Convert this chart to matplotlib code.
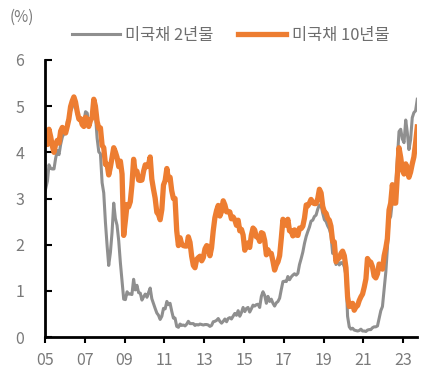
import numpy as np
import pandas as pd
import matplotlib
matplotlib.use('Agg')
import matplotlib.pyplot as plt
import matplotlib.dates as mdates

plt.rcParams['font.family'] = ['Noto Sans CJK KR', 'DejaVu Sans']

# 미국채 10년물 (월별, 2005.01 ~ 2023.09)
y10 = [
    4.22, 4.17, 4.50, 4.34, 4.14, 4.00, 4.18, 4.26, 4.20, 4.46, 4.54, 4.47,
    4.42, 4.57, 4.72, 4.99, 5.11, 5.20, 5.09, 4.88, 4.72, 4.73, 4.60, 4.56,
    4.76, 4.72, 4.56, 4.69, 4.75, 5.15, 5.00, 4.67, 4.52, 4.53, 4.15, 4.10,
    3.74, 3.74, 3.51, 3.68, 3.88, 4.10, 4.01, 3.89, 3.69, 3.81, 3.53, 2.20,
    2.52, 2.87, 2.82, 2.93, 3.29, 3.85, 3.56, 3.59, 3.40, 3.39, 3.40, 3.59,
    3.73, 3.69, 3.73, 3.90, 3.42, 3.20, 3.01, 2.70, 2.65, 2.54, 2.76, 3.29,
    3.39, 3.65, 3.41, 3.46, 3.17, 3.00, 3.00, 2.30, 1.98, 2.15, 2.01, 1.98,
    1.97, 1.97, 2.17, 2.05, 1.75, 1.55, 1.50, 1.68, 1.72, 1.75, 1.65, 1.72,
    1.91, 1.98, 1.96, 1.76, 1.93, 2.30, 2.58, 2.74, 2.85, 2.62, 2.72, 2.95,
    2.86, 2.71, 2.72, 2.71, 2.56, 2.60, 2.54, 2.42, 2.53, 2.30, 2.33, 2.21,
    1.88, 1.98, 2.04, 1.94, 2.20, 2.36, 2.32, 2.17, 2.17, 2.07, 2.26, 2.24,
    2.09, 1.78, 1.89, 1.81, 1.81, 1.64, 1.45, 1.56, 1.63, 1.76, 2.14, 2.55,
    2.43, 2.42, 2.55, 2.30, 2.30, 2.19, 2.32, 2.21, 2.20, 2.36, 2.35, 2.40,
    2.58, 2.86, 2.84, 2.90, 2.98, 2.91, 2.89, 2.89, 3.00, 3.20, 3.12, 2.83,
    2.71, 2.68, 2.57, 2.53, 2.40, 2.07, 2.06, 1.63, 1.70, 1.71, 1.81, 1.86,
    1.76, 1.50, 0.87, 0.66, 0.67, 0.73, 0.58, 0.65, 0.68, 0.79, 0.87, 0.93,
    1.08, 1.26, 1.70, 1.64, 1.62, 1.52, 1.32, 1.28, 1.37, 1.58, 1.56, 1.47,
    1.76, 1.93, 2.13, 2.75, 2.90, 3.30, 2.90, 2.90, 3.52, 4.10, 3.89, 3.62,
    3.53, 3.75, 3.66, 3.46, 3.57, 3.75, 3.90, 4.20, 4.55,
]

# 미국채 2년물
y2 = [
    3.15, 3.38, 3.73, 3.65, 3.64, 3.64, 3.87, 4.04, 3.95, 4.17, 4.33, 4.41,
    4.40, 4.67, 4.73, 4.89, 4.97, 5.12, 5.04, 4.82, 4.70, 4.74, 4.72, 4.67,
    4.88, 4.85, 4.57, 4.67, 4.77, 4.96, 4.82, 4.31, 4.01, 3.97, 3.34, 3.12,
    2.48, 1.97, 1.55, 1.83, 2.26, 2.90, 2.57, 2.42, 2.08, 1.61, 1.21, 0.82,
    0.81, 0.98, 0.93, 0.93, 0.92, 1.25, 1.02, 1.12, 0.96, 0.95, 0.80, 0.87,
    0.93, 0.86, 0.96, 1.06, 0.83, 0.72, 0.62, 0.52, 0.47, 0.38, 0.45, 0.62,
    0.61, 0.77, 0.70, 0.73, 0.56, 0.41, 0.41, 0.23, 0.21, 0.28, 0.25, 0.26,
    0.24, 0.28, 0.34, 0.29, 0.29, 0.29, 0.25, 0.27, 0.26, 0.28, 0.27, 0.26,
    0.27, 0.27, 0.26, 0.23, 0.25, 0.33, 0.34, 0.36, 0.40, 0.34, 0.30, 0.34,
    0.39, 0.33, 0.40, 0.42, 0.39, 0.45, 0.51, 0.47, 0.57, 0.45, 0.53, 0.64,
    0.55, 0.62, 0.64, 0.54, 0.61, 0.69, 0.67, 0.70, 0.71, 0.64, 0.88, 0.98,
    0.90, 0.73, 0.88, 0.77, 0.82, 0.73, 0.67, 0.74, 0.77, 0.84, 1.03, 1.20,
    1.21, 1.20, 1.31, 1.24, 1.30, 1.34, 1.37, 1.34, 1.38, 1.57, 1.70, 1.84,
    2.03, 2.18, 2.28, 2.38, 2.51, 2.53, 2.61, 2.64, 2.77, 2.86, 2.86, 2.68,
    2.54, 2.50, 2.41, 2.34, 2.21, 1.81, 1.84, 1.57, 1.65, 1.56, 1.61, 1.61,
    1.52, 1.33, 0.45, 0.22, 0.17, 0.19, 0.15, 0.14, 0.13, 0.14, 0.17, 0.13,
    0.13, 0.12, 0.15, 0.16, 0.16, 0.20, 0.22, 0.22, 0.24, 0.40, 0.57, 0.66,
    1.04, 1.41, 1.91, 2.54, 2.61, 2.95, 3.00, 3.26, 3.86, 4.45, 4.50, 4.29,
    4.21, 4.70, 4.44, 4.06, 4.27, 4.75, 4.86, 4.90, 5.15,
]

tick_years = [2005, 2007, 2009, 2011, 2013, 2015, 2017, 2019, 2021, 2023]
tick_labels = ['05', '07', '09', '11', '13', '15', '17', '19', '21', '23']

dates = pd.date_range('2005-01-01', periods=len(y10), freq='MS') + pd.Timedelta(days=14)
dates = dates.to_numpy()
dates[0] = np.datetime64('2005-01-01')

gray = '#8f8f8f'
orange = '#ED7D31'
tick_c = '#7a7a7a'

fig = plt.figure(figsize=(4.22, 3.87), dpi=100)
ax = fig.add_axes([45/422, 50/387, 372/422, 277/387])

ax.plot(dates, y2, color=gray, lw=2.2, label='미국채 2년물')
ax.plot(dates, y10, color=orange, lw=3.8, label='미국채 10년물')

ax.set_ylim(0, 6)
ax.set_yticks(range(0, 7))
ax.set_xlim(np.datetime64('2005-01-01'), np.datetime64('2023-09-10'))
ax.set_xticks([mdates.date2num(pd.Timestamp(f'{y}-01-01')) for y in tick_years])
ax.set_xticklabels(tick_labels)

for s in ['top', 'right']:
    ax.spines[s].set_visible(False)
for s in ['left', 'bottom']:
    ax.spines[s].set_linewidth(2)
    ax.spines[s].set_color('black')

ax.tick_params(axis='y', direction='in', length=5, width=1.5, pad=15,
               labelsize=11.5, labelcolor=tick_c)
ax.tick_params(axis='x', direction='out', length=4, width=1.5, pad=7,
               labelsize=11.5, labelcolor=tick_c)

fig.text(10/422, 1 - 17/387, '(%)', fontsize=11, color=tick_c, va='center', ha='left')

leg = ax.legend(loc='lower left', bbox_to_anchor=(0.055, 1.035), ncol=2, frameon=False,
                fontsize=11.8, handlelength=2.9, columnspacing=1.5, handletextpad=0.35,
                borderaxespad=0)
for t in leg.get_texts():
    t.set_color('#6e6e6e')

fig.savefig('out.png', dpi=100)
